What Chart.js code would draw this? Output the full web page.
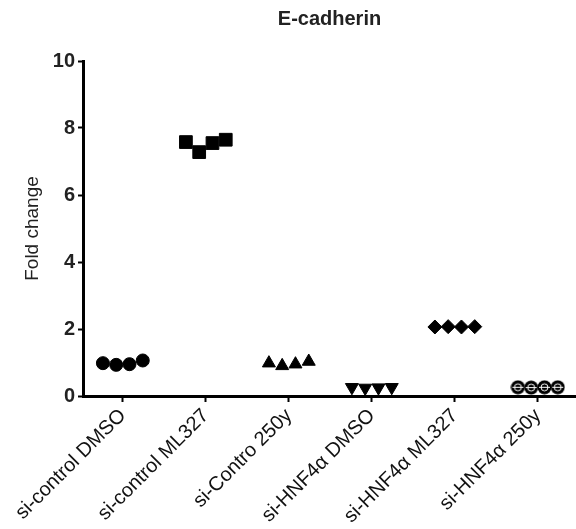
<!DOCTYPE html>
<html>
<head>
<meta charset="utf-8">
<script src="https://cdn.jsdelivr.net/npm/chart.js@4"></script>
<style>
  body { margin: 0; background: #fff; }
  #wrap { width: 576px; height: 529px; position: relative; }
</style>
</head>
<body>
<div id="wrap"><canvas id="cadherinChart"></canvas></div>
<script>
// groups along the x axis
var groupNames = ['si-control DMSO', 'si-control ML327', 'si-Contro 250y', 'si-HNF4\u03b1 DMSO', 'si-HNF4\u03b1 ML327', 'si-HNF4\u03b1 250y'];
var groupPos = [1, 2, 3, 4, 5, 6];
// spread of the 4 replicates around each group
var jitter = [-0.24, -0.08, 0.08, 0.24];

// fold change, 4 replicates per group
var ctrlDmso = [0.98, 0.93, 0.95, 1.06];
var ctrlMl327 = [7.58, 7.28, 7.55, 7.65];
var ctrl250 = [0.98, 0.9, 0.95, 1.03];
var hnfDmso = [0.26, 0.24, 0.25, 0.26];
var hnfMl327 = [2.06, 2.07, 2.06, 2.07];
var hnf250 = [0.26, 0.25, 0.26, 0.26];

var yTicks = [0, 2, 4, 6, 8, 10];

var font = "'Liberation Sans', Arial, sans-serif";

// circle with a white bar for the last group
function makeCrossedCircle() {
    var c = document.createElement('canvas');
    c.width = 15; c.height = 15;
    var g = c.getContext('2d');
    g.fillStyle = '#000';
    g.beginPath();
    g.arc(7.5, 7.5, 7, 0, Math.PI * 2);
    g.fill();
    g.strokeStyle = '#fff';
    g.lineWidth = 1;
    g.beginPath();
    g.arc(7.5, 7.5, 3.5, 0, Math.PI * 2);
    g.stroke();
    g.beginPath();
    g.moveTo(2, 7.5); g.lineTo(13, 7.5);
    g.stroke();
    return c;
}

function points(groupIndex, values) {
    return values.map(function (v, i) {
        return { x: groupPos[groupIndex] + jitter[i], y: v };
    });
}

function set(groupIndex, values, style, radius, rotation) {
    return {
        data: points(groupIndex, values),
        pointStyle: style,
        pointRadius: radius,
        pointRotation: rotation || 0,
        backgroundColor: '#000',
        borderColor: '#000',
        borderWidth: 1,
        showLine: false
    };
}

var titlePlugin = {
    id: 'topTitle',
    afterDraw: function (chart) {
        var ctx = chart.ctx;
        var area = chart.chartArea;
        ctx.save();
        ctx.font = 'bold 20px ' + font;
        ctx.fillStyle = '#222';
        ctx.textAlign = 'center';
        ctx.textBaseline = 'alphabetic';
        ctx.fillText('E-cadherin', (area.left + area.right) / 2, 25);
        ctx.restore();
    }
};

var ctx = document.getElementById('cadherinChart').getContext('2d');

var cadherinChart = new Chart(ctx, {
    type: 'scatter',
    data: {
        datasets: [
            set(0, ctrlDmso, 'circle', 6.5),
            set(1, ctrlMl327, 'rect', 9),
            set(2, ctrl250, 'triangle', 7.5),
            set(3, hnfDmso, 'triangle', 7.5, 180),
            set(4, hnfMl327, 'rectRot', 7),
            set(5, hnf250, makeCrossedCircle(), 7)
        ]
    },
    options: {
        responsive: true,
        maintainAspectRatio: false,
        animation: false,
        layout: { autoPadding: false, padding: { top: 61, right: 0, bottom: 0, left: 0 } },
        plugins: {
            legend: { display: false },
            tooltip: { enabled: false }
        },
        scales: {
            x: {
                type: 'linear',
                min: 0.52,
                max: 6.46,
                afterBuildTicks: function (scale) {
                    scale.ticks = groupPos.map(function (v) { return { value: v }; });
                },
                afterFit: function (scale) {
                    scale.height = 133;
                    scale.paddingLeft = 0;
                    scale.paddingRight = 0;
                },
                border: { display: true, color: '#000', width: 3 },
                grid: {
                    drawOnChartArea: false,
                    drawTicks: true,
                    tickLength: 6,
                    tickColor: '#000',
                    tickWidth: 2
                },
                ticks: {
                    autoSkip: false,
                    minRotation: 45,
                    maxRotation: 45,
                    padding: 2,
                    color: '#111',
                    font: { family: font, size: 20 },
                    callback: function (value, index) { return groupNames[index]; }
                }
            },
            y: {
                min: 0,
                max: 10,
                afterBuildTicks: function (scale) {
                    scale.ticks = yTicks.map(function (v) { return { value: v }; });
                },
                afterFit: function (scale) { scale.width = 83; },
                border: { display: true, color: '#000', width: 3 },
                grid: {
                    drawOnChartArea: false,
                    drawTicks: true,
                    tickLength: 5,
                    tickColor: '#000',
                    tickWidth: 2
                },
                ticks: {
                    padding: 3,
                    color: '#222',
                    font: { family: font, size: 20, weight: 'bold' }
                },
                title: {
                    display: true,
                    text: 'Fold change',
                    color: '#222',
                    padding: { top: 21, bottom: 0 },
                    font: { family: font, size: 19 }
                }
            }
        }
    },
    plugins: [titlePlugin]
});
</script>
</body>
</html>
